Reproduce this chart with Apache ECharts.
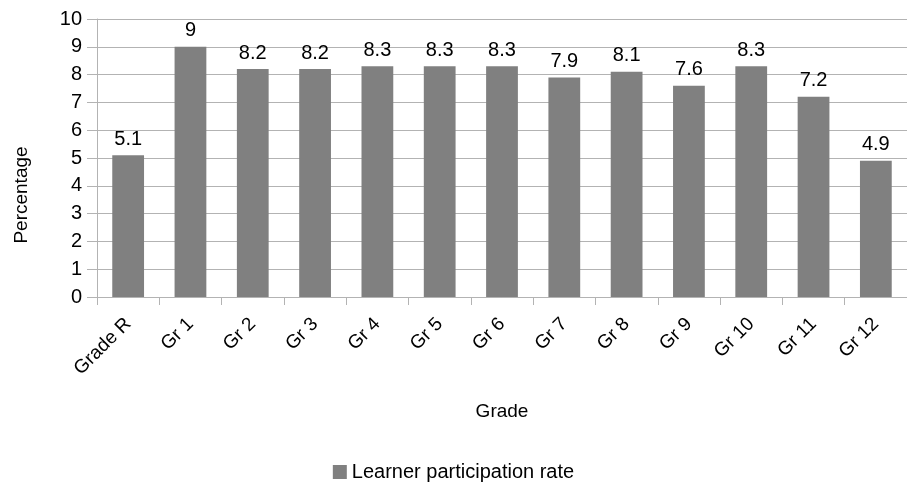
<!DOCTYPE html>
<html>
<head>
<meta charset="utf-8">
<script src="https://cdn.jsdelivr.net/npm/echarts@6/dist/echarts.min.js"></script>
<style>
html,body{margin:0;padding:0;background:#fff;}
#chart{width:907px;height:484px;}
</style>
</head>
<body>
<div id="chart"></div>
<script>
// Learner participation rate by grade
const grades = ['Grade R', 'Gr 1', 'Gr 2', 'Gr 3', 'Gr 4', 'Gr 5', 'Gr 6', 'Gr 7', 'Gr 8', 'Gr 9', 'Gr 10', 'Gr 11', 'Gr 12'];
const participation = [5.1, 9, 8.2, 8.2, 8.3, 8.3, 8.3, 7.9, 8.1, 7.6, 8.3, 7.2, 4.9];
const seriesName = 'Learner participation rate';

const font = 'Liberation Sans, Arial, sans-serif';
const chart = echarts.init(document.getElementById('chart'));
chart.setOption({
  animation: false,
  textStyle: { fontFamily: font },
  // plot area runs slightly past the right edge of the canvas
  grid: { left: 97, right: -7, top: 19, bottom: 187, containLabel: false },
  legend: {
    data: [seriesName],
    top: 457,
    left: 'center',
    icon: 'rect',
    itemWidth: 14,
    itemHeight: 14,
    itemGap: 6,
    textStyle: { fontSize: 20, color: '#000', fontFamily: font }
  },
  xAxis: {
    type: 'category',
    data: grades,
    name: 'Grade',
    nameLocation: 'middle',
    nameGap: 105,
    nameTextStyle: { fontSize: 19, color: '#000', fontFamily: font },
    axisLine: { lineStyle: { color: '#b3b3b3', width: 1 } },
    axisTick: { show: true, length: 8, lineStyle: { color: '#b3b3b3' } },
    axisLabel: { rotate: 45, fontSize: 19, color: '#000', margin: 24, fontFamily: font }
  },
  yAxis: {
    type: 'value',
    min: 0,
    max: 10,
    interval: 1,
    name: 'Percentage',
    nameLocation: 'middle',
    nameGap: 66,
    // right padding pushes the rotated title down the axis
    nameTextStyle: { fontSize: 19, color: '#000', fontFamily: font, padding: [0, 74, 0, 0] },
    axisLine: { show: true, lineStyle: { color: '#b3b3b3', width: 1 } },
    axisTick: { show: true, length: 10, lineStyle: { color: '#b3b3b3' } },
    axisLabel: { fontSize: 20, color: '#000', margin: 15, fontFamily: font },
    splitLine: { lineStyle: { color: '#b3b3b3', width: 1 } }
  },
  series: [{
    name: seriesName,
    type: 'bar',
    data: participation,
    barWidth: '51%',
    itemStyle: { color: '#808080' },
    label: {
      show: true,
      position: 'top',
      distance: 6,
      fontSize: 20,
      color: '#000',
      fontFamily: font
    }
  }]
});
</script>
</body>
</html>
